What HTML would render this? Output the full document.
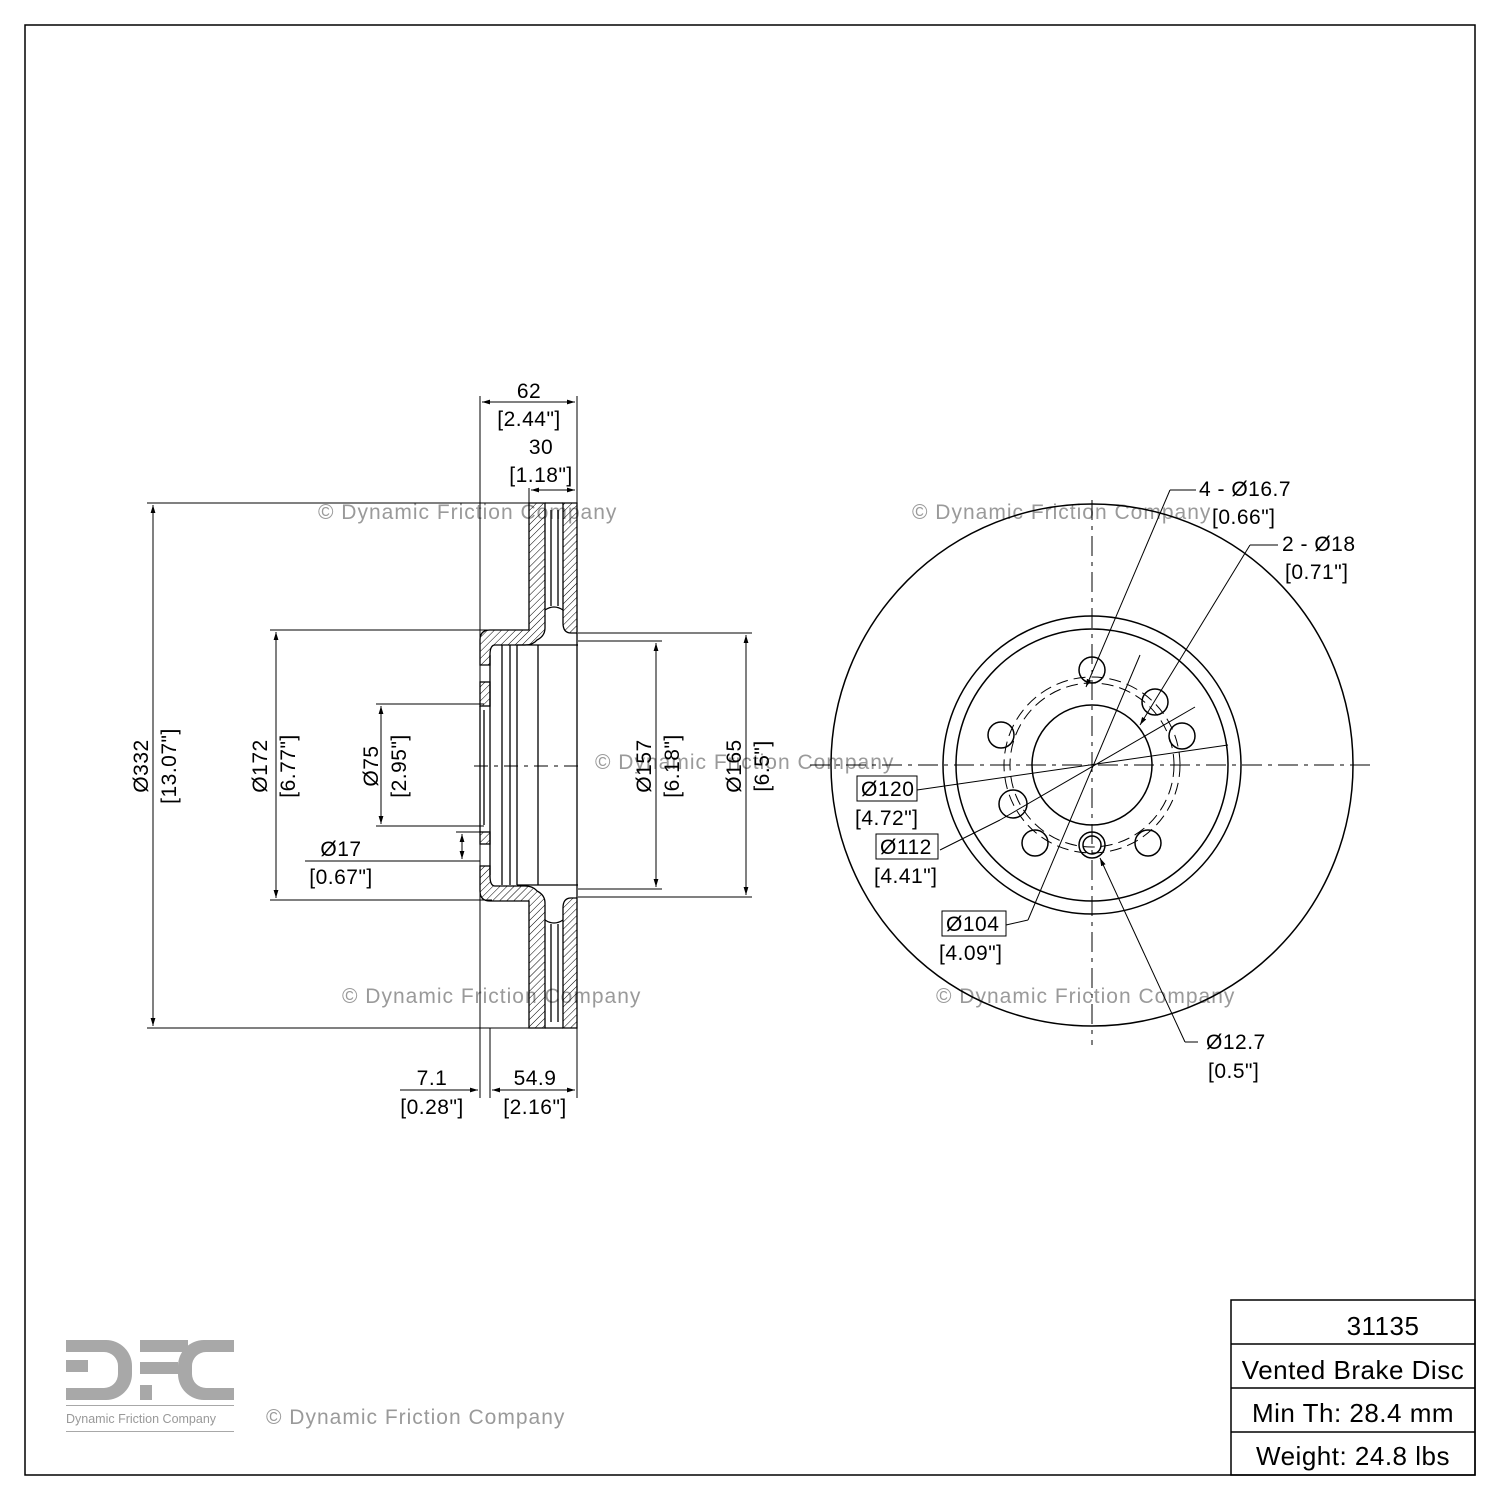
<!DOCTYPE html>
<html><head><style>body{margin:0;background:#fff}svg{display:block}</style></head><body>
<svg width="1500" height="1500" viewBox="0 0 1500 1500" xmlns="http://www.w3.org/2000/svg" font-family="Liberation Sans, sans-serif">
<defs>
<pattern id="h" width="5" height="5" patternUnits="userSpaceOnUse" patternTransform="rotate(45)"><line x1="0" y1="0" x2="0" y2="5" stroke="#000" stroke-width="1"/></pattern>
<marker id="a" viewBox="0 0 10 10" refX="10" refY="5" markerWidth="8" markerHeight="8" orient="auto-start-reverse"><path d="M0,2 L10,5 L0,8z" fill="#000"/></marker>
</defs>
<rect x="25" y="25" width="1450" height="1450" fill="none" stroke="#000" stroke-width="1.5"/>
<g fill="#9a9a9a" font-size="21" letter-spacing="1">
<text x="318" y="519">© Dynamic Friction Company</text>
<text x="912" y="519">© Dynamic Friction Company</text>
<text x="595" y="769">© Dynamic Friction Company</text>
<text x="342" y="1003">© Dynamic Friction Company</text>
<text x="936" y="1003">© Dynamic Friction Company</text>
<text x="266" y="1424">© Dynamic Friction Company</text>
</g>
<!-- side view -->
<g stroke="#000" stroke-width="1.3">
<path d="M529,503 h16 v125 q0,8 -8,12 q-4,5 -12,5 h-30 q-5,0 -5,10 v10 h-10 v-25 q0,-10 10,-10 h39 z" fill="url(#h)"/>
<path d="M563,503 h14 v130 h-6 q-8,0 -8,-10 z" fill="url(#h)"/>
<path d="M529,1028 h16 v-125 q0,-8 -8,-12 q-4,-5 -12,-5 h-30 q-5,0 -5,-10 v-10 h-10 v25 q0,10 10,10 h39 z" fill="url(#h)"/>
<path d="M563,1028 h14 v-130 h-6 q-8,0 -8,10 z" fill="url(#h)"/>
<rect x="480" y="682" width="10" height="24" fill="url(#h)"/>
<rect x="480" y="832" width="10" height="12" fill="url(#h)"/>
</g>
<g stroke="#000" fill="none" stroke-width="1.3">
<line x1="480" y1="706" x2="480" y2="832"/><line x1="490" y1="655" x2="490" y2="875"/>
<line x1="484" y1="710" x2="484" y2="825"/>
<line x1="502" y1="645" x2="502" y2="885"/><line x1="510" y1="645" x2="510" y2="885"/><line x1="517" y1="645" x2="517" y2="885"/><line x1="538" y1="645" x2="538" y2="885"/>
<line x1="577" y1="633" x2="577" y2="898"/>
<line x1="517" y1="645" x2="578" y2="645"/><line x1="517" y1="885" x2="578" y2="885"/>
<path d="M545,610 q9,-6 18,0"/><path d="M545,920 q9,6 18,0"/>
<line x1="551" y1="510" x2="551" y2="606"/><line x1="558" y1="510" x2="558" y2="606"/>
<line x1="551" y1="924" x2="551" y2="1022"/><line x1="558" y1="924" x2="558" y2="1022"/>
<line x1="545" y1="503" x2="563" y2="503"/><line x1="545" y1="1028" x2="563" y2="1028"/>
</g>
<g stroke="#000" fill="none" stroke-width="1">
<line x1="474" y1="766" x2="580" y2="766" stroke-dasharray="14,6,4,6"/>
<line x1="480" y1="396" x2="480" y2="1098"/><line x1="577" y1="396" x2="577" y2="1098"/>
<line x1="490" y1="1028" x2="490" y2="1098"/><line x1="529" y1="488" x2="529" y2="503"/>
<line x1="147" y1="503" x2="529" y2="503"/><line x1="147" y1="1028" x2="529" y2="1028"/>
<line x1="270" y1="630" x2="492" y2="630"/><line x1="270" y1="900" x2="492" y2="900"/>
<line x1="376" y1="704" x2="484" y2="704"/><line x1="376" y1="826" x2="484" y2="826"/>
<line x1="305" y1="861" x2="480" y2="861"/><line x1="456" y1="832" x2="486" y2="832"/>
<line x1="578" y1="641" x2="662" y2="641"/><line x1="578" y1="889" x2="662" y2="889"/>
<line x1="578" y1="633" x2="752" y2="633"/><line x1="578" y1="897" x2="752" y2="897"/>
<line x1="482" y1="402" x2="575" y2="402" marker-start="url(#a)" marker-end="url(#a)"/>
<line x1="531" y1="490" x2="575" y2="490" marker-start="url(#a)" marker-end="url(#a)"/>
<line x1="153" y1="505" x2="153" y2="1026" marker-start="url(#a)" marker-end="url(#a)"/>
<line x1="276" y1="632" x2="276" y2="898" marker-start="url(#a)" marker-end="url(#a)"/>
<line x1="381" y1="706" x2="381" y2="824" marker-start="url(#a)" marker-end="url(#a)"/>
<line x1="462" y1="834" x2="462" y2="859" marker-start="url(#a)" marker-end="url(#a)"/>
<line x1="656" y1="643" x2="656" y2="887" marker-start="url(#a)" marker-end="url(#a)"/>
<line x1="746" y1="635" x2="746" y2="895" marker-start="url(#a)" marker-end="url(#a)"/>
<line x1="400" y1="1090" x2="478" y2="1090" marker-end="url(#a)"/>
<line x1="492" y1="1090" x2="575" y2="1090" marker-start="url(#a)" marker-end="url(#a)"/>
</g>
<g font-size="21" fill="#000" letter-spacing="0.5">
<text x="529" y="398" text-anchor="middle">62</text><text x="529" y="426" text-anchor="middle">[2.44"]</text>
<text x="541" y="454" text-anchor="middle">30</text><text x="541" y="482" text-anchor="middle">[1.18"]</text>
<text x="341" y="856" text-anchor="middle">Ø17</text><text x="341" y="884" text-anchor="middle">[0.67"]</text>
<text x="432" y="1085" text-anchor="middle">7.1</text><text x="432" y="1114" text-anchor="middle">[0.28"]</text>
<text x="535" y="1085" text-anchor="middle">54.9</text><text x="535" y="1114" text-anchor="middle">[2.16"]</text>
<g text-anchor="middle">
<text transform="translate(148,766) rotate(-90)">Ø332</text><text transform="translate(176,766) rotate(-90)">[13.07"]</text>
<text transform="translate(267,766) rotate(-90)">Ø172</text><text transform="translate(295,766) rotate(-90)">[6.77"]</text>
<text transform="translate(378,766) rotate(-90)">Ø75</text><text transform="translate(406,766) rotate(-90)">[2.95"]</text>
<text transform="translate(651,766) rotate(-90)">Ø157</text><text transform="translate(679,766) rotate(-90)">[6.18"]</text>
<text transform="translate(741,766) rotate(-90)">Ø165</text><text transform="translate(769,766) rotate(-90)">[6.5"]</text>
</g>
</g>
<!-- front view -->
<g stroke="#000" fill="none" stroke-width="1.5">
<circle cx="1092" cy="765" r="261"/>
<circle cx="1092" cy="765" r="149"/><circle cx="1092" cy="765" r="136"/>
<circle cx="1092" cy="765" r="60"/>
<circle cx="1092" cy="670" r="13"/><circle cx="1155" cy="702" r="13"/><circle cx="1182" cy="736" r="13"/>
<circle cx="1001" cy="735" r="13"/><circle cx="1013" cy="804" r="14"/><circle cx="1035" cy="843" r="13"/>
<circle cx="1092" cy="845" r="13"/><circle cx="1092" cy="845" r="9"/><circle cx="1148" cy="843" r="13"/>
</g>
<g stroke="#000" fill="none" stroke-width="1">
<circle cx="1092" cy="765" r="82" stroke-dasharray="12,6"/>
<circle cx="1092" cy="765" r="88" stroke-dasharray="12,6"/>
<line x1="1092" y1="500" x2="1092" y2="1045" stroke-dasharray="20,6,4,6"/>
<line x1="810" y1="765" x2="1372" y2="765" stroke-dasharray="20,6,4,6"/>
<line x1="1196" y1="490" x2="1170" y2="490"/><line x1="1170" y1="490" x2="1086" y2="687" marker-end="url(#a)"/>
<line x1="1278" y1="545" x2="1250" y2="545"/><line x1="1250" y1="545" x2="1140" y2="725" marker-end="url(#a)"/>
<line x1="917" y1="790" x2="1228" y2="745"/>
<line x1="940" y1="850" x2="1000" y2="820"/><line x1="1000" y1="820" x2="1195" y2="707"/>
<line x1="1006" y1="925" x2="1028" y2="920"/><line x1="1028" y1="920" x2="1140" y2="655"/>
<line x1="1198" y1="1042" x2="1185" y2="1042"/><line x1="1185" y1="1042" x2="1100" y2="858" marker-end="url(#a)"/>
<rect x="857" y="776" width="60" height="25"/><rect x="876" y="834" width="62" height="25"/><rect x="942" y="911" width="64" height="25"/>
</g>
<g font-size="21" fill="#000" letter-spacing="0.5">
<text x="1199" y="496">4 - Ø16.7</text><text x="1212" y="524">[0.66"]</text>
<text x="1282" y="551">2 - Ø18</text><text x="1285" y="579">[0.71"]</text>
<text x="861" y="796">Ø120</text><text x="855" y="825">[4.72"]</text>
<text x="880" y="854">Ø112</text><text x="874" y="883">[4.41"]</text>
<text x="946" y="931">Ø104</text><text x="939" y="960">[4.09"]</text>
<text x="1206" y="1049">Ø12.7</text><text x="1208" y="1078">[0.5"]</text>
</g>
<g stroke="#000" stroke-width="1.5" fill="none">
<rect x="1231" y="1300" width="244" height="175"/>
<line x1="1231" y1="1344" x2="1475" y2="1344"/><line x1="1231" y1="1388" x2="1475" y2="1388"/><line x1="1231" y1="1432" x2="1475" y2="1432"/>
</g>
<g font-size="26" fill="#000" text-anchor="middle" letter-spacing="0.5">
<text x="1383" y="1335">31135</text><text x="1353" y="1379">Vented Brake Disc</text>
<text x="1353" y="1422">Min Th: 28.4 mm</text><text x="1353" y="1465">Weight: 24.8 lbs</text>
</g>
<g fill="#a8a8a8">
<path d="M66,1340 h40 a26,26 0 0 1 26,26 v8 a26,26 0 0 1 -26,26 h-40 v-12 h38 a14,14 0 0 0 14,-14 v-8 a14,14 0 0 0 -14,-14 h-38 z"/>
<rect x="66" y="1360" width="22" height="12"/>
<rect x="140" y="1340" width="48" height="12"/><rect x="140" y="1362" width="38" height="12"/><rect x="140" y="1385" width="12" height="15"/>
<path d="M234,1340 h-30 a26,26 0 0 0 -26,26 v8 a26,26 0 0 0 26,26 h30 v-12 h-28 a14,14 0 0 1 -14,-14 v-8 a14,14 0 0 1 14,-14 h28 z"/>
<rect x="66" y="1405" width="168" height="1"/><rect x="66" y="1431" width="168" height="1"/>
<text x="66" y="1423" font-size="12.5" fill="#999">Dynamic Friction Company</text>
</g>
</svg>
</body></html>
